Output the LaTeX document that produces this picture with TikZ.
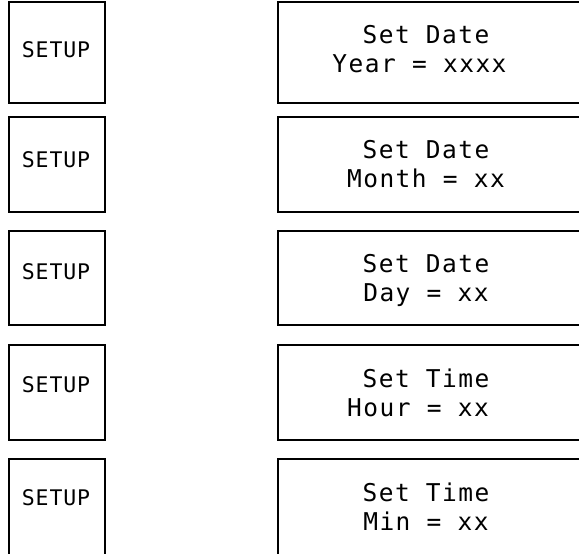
\documentclass[tikz,border=0pt]{standalone}
\usepackage{fontspec}
\newfontfamily\lcdfont{DejaVu Sans Mono}[LetterSpace=6]
\newfontfamily\keyfont{DejaVu Sans Mono}[LetterSpace=4]
\begin{document}
\begin{tikzpicture}[x=1pt,y=-1pt,
  framebox/.style={draw=black, line width=2pt, inner sep=0pt},
  keylabel/.style={inner sep=0pt, anchor=base, font=\keyfont\fontsize{21.5}{24}\selectfont},
  lcdline/.style={inner sep=0pt, anchor=base, font=\lcdfont\fontsize{24.5}{29}\selectfont}]
  \useasboundingbox (0,0) rectangle (579,554);
  \clip (0,0) rectangle (579,554);
  % five rows: top edge / bottom edge, SETUP baseline, display lines
  \foreach \i/\top/\bot/\kb/\la/\lb/\xb in {
      1/1.5/103/57.5/Set Date/Year = xxxx/419.5,
      2/116.5/212/167.5/Set Date/Month = xx/426,
      3/230.5/325/279.5/Set Date/Day = xx/426,
      4/345/440/392.5/Set Time/Hour = xx/418,
      5/459/555/505.5/Set Time/Min = xx/426} {
    \pgfmathsetmacro{\mid}{(\top+\bot)/2}
    \pgfmathsetmacro{\hgt}{\bot-\top}
    \node[framebox, minimum width=96.5pt, minimum height=\hgt pt] (key\i) at (56.75,\mid) {};
    \node[keylabel] (key\i t) at (56,\kb) {SETUP};
    \node[framebox, minimum width=308pt, minimum height=\hgt pt] (lcd\i) at (432,\mid) {};
    \node[lcdline] (lcd\i a) at (426,\top+42) {\la};
    \node[lcdline] (lcd\i b) at (\xb,\top+71) {\lb};
  }
\end{tikzpicture}
\end{document}
